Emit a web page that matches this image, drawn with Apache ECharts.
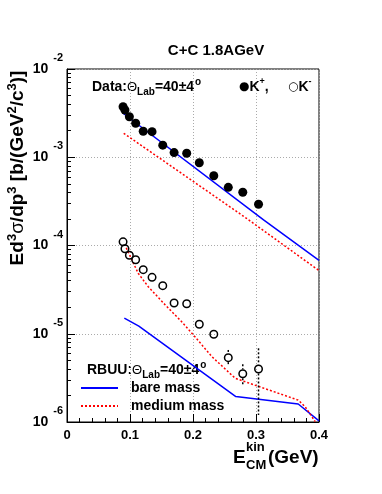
<!DOCTYPE html>
<html>
<head>
<meta charset="utf-8">
<script src="https://cdn.jsdelivr.net/npm/echarts@6/dist/echarts.min.js"></script>
<style>
  html, body { margin: 0; padding: 0; background: #fff; }
  #chart { width: 382px; height: 494px; }
</style>
</head>
<body>
<div id="chart"></div>
<script>
// kinetic energy in CM (GeV), same bins for K+ and K-
const ekin = [0.089, 0.092, 0.099, 0.109, 0.121, 0.135, 0.152, 0.170, 0.190, 0.210, 0.233, 0.256, 0.279, 0.304];
const kplusVal = [3.74e-3, 3.43e-3, 2.88e-3, 2.43e-3, 1.97e-3, 1.95e-3, 1.37e-3, 1.13e-3, 1.11e-3, 8.67e-4, 6.18e-4, 4.56e-4, 4.01e-4, 2.93e-4];
const kminusVal = [1.10e-4, 9.20e-5, 7.75e-5, 6.90e-5, 5.32e-5, 4.36e-5, 3.51e-5, 2.23e-5, 2.19e-5, 1.28e-5, 9.86e-6, 5.36e-6, 3.52e-6, 3.99e-6];
// K- error bars (only the last ones stick out of the markers)
const kminusErrE = [0.256, 0.279, 0.304];
const kminusErrVal = [5.36e-6, 3.52e-6, 3.99e-6];
const kminusErrLo = [4.43e-6, 2.62e-6, 1.20e-6];
const kminusErrHi = [6.55e-6, 4.51e-6, 6.84e-6];

// RBUU curves
const bareKplusE = [0.089, 0.312, 0.400];
const bareKplusVal = [3.15e-3, 1.95e-4, 6.8e-5];
const mediumKplusE = [0.090, 0.285, 0.400];
const mediumKplusVal = [1.87e-3, 2.03e-4, 5.2e-5];
const bareKminusE = [0.091, 0.114, 0.268, 0.367, 0.400];
const bareKminusVal = [1.50e-5, 1.22e-5, 1.94e-6, 1.60e-6, 1.03e-6];
const mediumKminusE = [0.094, 0.113, 0.129, 0.156, 0.182, 0.203, 0.230, 0.267, 0.298, 0.367, 0.378, 0.394];
const mediumKminusVal = [9.4e-5, 4.84e-5, 3.41e-5, 2.12e-5, 1.37e-5, 9.27e-6, 5.50e-6, 3.13e-6, 2.62e-6, 1.77e-6, 1.49e-6, 1.01e-6];

// axis ticks
const xTicks = [0, 0.1, 0.2, 0.3, 0.4];
const yMinor = [];
[-6, -5, -4, -3].forEach(function (d) {
  for (let k = 2; k <= 9; k++) yMinor.push(k * Math.pow(10, d));
});

const FONT = '"Liberation Sans", Arial, Helvetica, sans-serif';
const pairs = (xs, ys) => xs.map((x, i) => [x, ys[i]]);

const chart = echarts.init(document.getElementById('chart'));

const blueLine = { color: '#0000ff', width: 1.5, type: 'solid' };
const redLine = { color: '#ff0000', width: 1.5, type: [2, 2] };

const option = {
  animation: false,
  backgroundColor: '#fff',
  title: {
    text: 'C+C 1.8AGeV',
    left: 211,
    top: 38,
    textAlign: 'center',
    textStyle: { fontFamily: FONT, fontSize: 15, fontWeight: 'bold', color: '#000' }
  },
  grid: {
    left: 67, top: 69, width: 252, height: 353,
    show: true, borderColor: '#000', borderWidth: 1,
    outerBoundsMode: 'none'
  },
  legend: {
    data: ['bare mass', 'medium mass'],
    orient: 'vertical',
    left: 80,
    top: 381,
    padding: 0,
    itemWidth: 37,
    itemHeight: 14,
    itemGap: 4,
    // line only, hide the default symbol drawn on top of it
    itemStyle: { color: 'rgba(0,0,0,0)', borderWidth: 0, opacity: 0 },
    textStyle: { fontFamily: FONT, fontSize: 14, fontWeight: 'bold', color: '#000', padding: [0, 0, 0, 8] }
  },
  xAxis: {
    type: 'value',
    min: 0, max: 0.4, interval: 0.1,
    axisLine: { show: true, lineStyle: { color: '#000', width: 1 } },
    axisTick: { show: true, inside: true, length: 8, lineStyle: { color: '#000' } },
    minorTick: { show: true, splitNumber: 5, length: 4, lineStyle: { color: '#000' } },
    axisLabel: {
      margin: 7, color: '#000', fontFamily: FONT, fontSize: 13, fontWeight: 'bold',
      showMinLabel: true, showMaxLabel: true,
      formatter: v => xTicks.indexOf(Math.round(v * 10) / 10) >= 0 ? String(Math.round(v * 10) / 10) : ''
    },
    splitLine: { show: true, lineStyle: { color: '#aaa', width: 1, type: [1, 2] } }
  },
  yAxis: [
    {
      type: 'log', logBase: 10, min: 1e-6, max: 1e-2,
      axisLine: { show: true, lineStyle: { color: '#000', width: 1 } },
      axisTick: { show: true, inside: true, length: 8, lineStyle: { color: '#000' } },
      axisLabel: {
        margin: 4, color: '#000', fontFamily: FONT,
        showMinLabel: true, showMaxLabel: true,
        formatter: function (v) {
          const p = Math.round(Math.log10(v));
          return '{b|10}{e|' + p + '}';
        },
        rich: {
          b: { fontFamily: FONT, fontSize: 14, fontWeight: 'bold', color: '#000', lineHeight: 16, verticalAlign: 'middle' },
          e: { fontFamily: FONT, fontSize: 11, fontWeight: 'bold', color: '#000', lineHeight: 12, padding: [0, 0, 22, 5], verticalAlign: 'middle' }
        }
      },
      splitLine: { show: true, lineStyle: { color: '#aaa', width: 1, type: [1, 2] } }
    },
    {
      // log minor ticks
      type: 'log', logBase: 10, min: 1e-6, max: 1e-2,
      position: 'left',
      axisLine: { show: false },
      axisLabel: { show: false },
      splitLine: { show: false },
      axisTick: { show: true, inside: true, length: 4, customValues: yMinor, lineStyle: { color: '#000' } }
    }
  ],
  graphic: [
    {
      type: 'text', x: 92, y: 87,
      style: {
        text: '{b|Data:}{t|Θ}{s|Lab}{b|=40±4}{o|o}',
        verticalAlign: 'middle',
        rich: {
          b: { fontFamily: FONT, fontSize: 14, fontWeight: 'bold', fill: '#000', verticalAlign: 'middle' },
          t: { fontFamily: FONT, fontSize: 13, fill: '#000', verticalAlign: 'middle' },
          s: { fontFamily: FONT, fontSize: 10, fontWeight: 'bold', fill: '#000', padding: [11, 0, 0, 0], verticalAlign: 'middle' },
          o: { fontFamily: FONT, fontSize: 10, fontWeight: 'bold', fill: '#000', padding: [0, 0, 10, 1], verticalAlign: 'middle' }
        }
      }
    },
    {
      type: 'text', x: 239, y: 87,
      style: {
        text: '{m|●}{b|K}{p|+}{b|,}',
        verticalAlign: 'middle',
        rich: {
          m: { fontFamily: '"DejaVu Sans", sans-serif', fontSize: 12, fill: '#000', verticalAlign: 'middle' },
          b: { fontFamily: FONT, fontSize: 14, fontWeight: 'bold', fill: '#000', verticalAlign: 'middle' },
          p: { fontFamily: FONT, fontSize: 9, fontWeight: 'bold', fill: '#000', padding: [0, 0, 10, 0], verticalAlign: 'middle' }
        }
      }
    },
    {
      type: 'text', x: 288, y: 87,
      style: {
        text: '{m|○}{b|K}{p|-}',
        verticalAlign: 'middle',
        rich: {
          m: { fontFamily: '"DejaVu Sans", sans-serif', fontSize: 12, fill: '#000', verticalAlign: 'middle' },
          b: { fontFamily: FONT, fontSize: 14, fontWeight: 'bold', fill: '#000', verticalAlign: 'middle' },
          p: { fontFamily: FONT, fontSize: 9, fontWeight: 'bold', fill: '#000', padding: [0, 0, 10, 0], verticalAlign: 'middle' }
        }
      }
    },
    {
      type: 'text', x: 87, y: 370,
      style: {
        text: '{b|RBUU:}{t|Θ}{s|Lab}{b|=40±4}{o|o}',
        verticalAlign: 'middle',
        rich: {
          b: { fontFamily: FONT, fontSize: 14, fontWeight: 'bold', fill: '#000', verticalAlign: 'middle' },
          t: { fontFamily: FONT, fontSize: 13, fill: '#000', verticalAlign: 'middle' },
          s: { fontFamily: FONT, fontSize: 10, fontWeight: 'bold', fill: '#000', padding: [11, 0, 0, 0], verticalAlign: 'middle' },
          o: { fontFamily: FONT, fontSize: 10, fontWeight: 'bold', fill: '#000', padding: [0, 0, 10, 1], verticalAlign: 'middle' }
        }
      }
    },
    {
      // y axis title
      type: 'text', x: 18, y: 168, rotation: Math.PI / 2,
      style: {
        text: '{a|Ed}{s|3}{g|σ}{a|/dp}{s|3}{a| [b/(GeV}{s|2}{a|/c}{s|3}{a|)]}',
        align: 'center', verticalAlign: 'middle',
        rich: {
          a: { fontFamily: FONT, fontSize: 19, fontWeight: 'bold', fill: '#000', verticalAlign: 'middle' },
          g: { fontFamily: FONT, fontSize: 19, fill: '#000', verticalAlign: 'middle' },
          s: { fontFamily: FONT, fontSize: 13, fontWeight: 'bold', fill: '#000', padding: [0, 0, 12, 0], verticalAlign: 'middle' }
        }
      }
    },
    // x axis title
    { type: 'text', x: 233, y: 458, style: { text: 'E', font: 'bold 19px ' + FONT, fill: '#000', verticalAlign: 'middle' } },
    { type: 'text', x: 246, y: 447, style: { text: 'kin', font: 'bold 13px ' + FONT, fill: '#000', verticalAlign: 'middle' } },
    { type: 'text', x: 246, y: 465, style: { text: 'CM', font: 'bold 13px ' + FONT, fill: '#000', verticalAlign: 'middle' } },
    { type: 'text', x: 268, y: 458, style: { text: '(GeV)', font: 'bold 19px ' + FONT, fill: '#000', verticalAlign: 'middle' } }
  ],
  series: [
    { name: 'bare mass', type: 'line', symbol: 'none', data: pairs(bareKplusE, bareKplusVal), lineStyle: blueLine, itemStyle: { color: '#0000ff' }, z: 2 },
    { name: 'medium mass', type: 'line', symbol: 'none', data: pairs(mediumKplusE, mediumKplusVal), lineStyle: redLine, itemStyle: { color: '#ff0000' }, z: 2 },
    { name: 'bare mass', type: 'line', symbol: 'none', data: pairs(bareKminusE, bareKminusVal), lineStyle: blueLine, itemStyle: { color: '#0000ff' }, z: 2 },
    { name: 'medium mass', type: 'line', symbol: 'none', data: pairs(mediumKminusE, mediumKminusVal), lineStyle: redLine, itemStyle: { color: '#ff0000' }, z: 2 },
    {
      name: 'K- err', type: 'custom', z: 3,
      data: kminusErrE.map((e, i) => [e, kminusErrLo[i], kminusErrHi[i], kminusErrVal[i]]),
      encode: { x: 0, y: [1, 2] },
      renderItem: function (params, api) {
        const lo = api.coord([api.value(0), api.value(1)]);
        const hi = api.coord([api.value(0), api.value(2)]);
        const mid = api.coord([api.value(0), api.value(3)]);
        const r = 4.5;
        const st = { stroke: '#000', lineWidth: 1.5, lineDash: [2, 2] };
        const kids = [];
        if (hi[1] < mid[1] - r) kids.push({ type: 'line', shape: { x1: mid[0], y1: hi[1], x2: mid[0], y2: mid[1] - r }, style: st });
        if (lo[1] > mid[1] + r) kids.push({ type: 'line', shape: { x1: mid[0], y1: mid[1] + r, x2: mid[0], y2: lo[1] }, style: st });
        return { type: 'group', children: kids };
      }
    },
    {
      name: 'K+', type: 'scatter', symbol: 'circle', symbolSize: 9, z: 4,
      data: pairs(ekin, kplusVal),
      itemStyle: { color: '#000', opacity: 1 }
    },
    {
      name: 'K-', type: 'scatter', symbol: 'circle', symbolSize: 7.5, z: 4,
      data: pairs(ekin, kminusVal),
      itemStyle: { color: 'rgba(0,0,0,0)', borderColor: '#000', borderWidth: 1.5, opacity: 1 }
    }
  ]
};

chart.setOption(option);
</script>
</body>
</html>
